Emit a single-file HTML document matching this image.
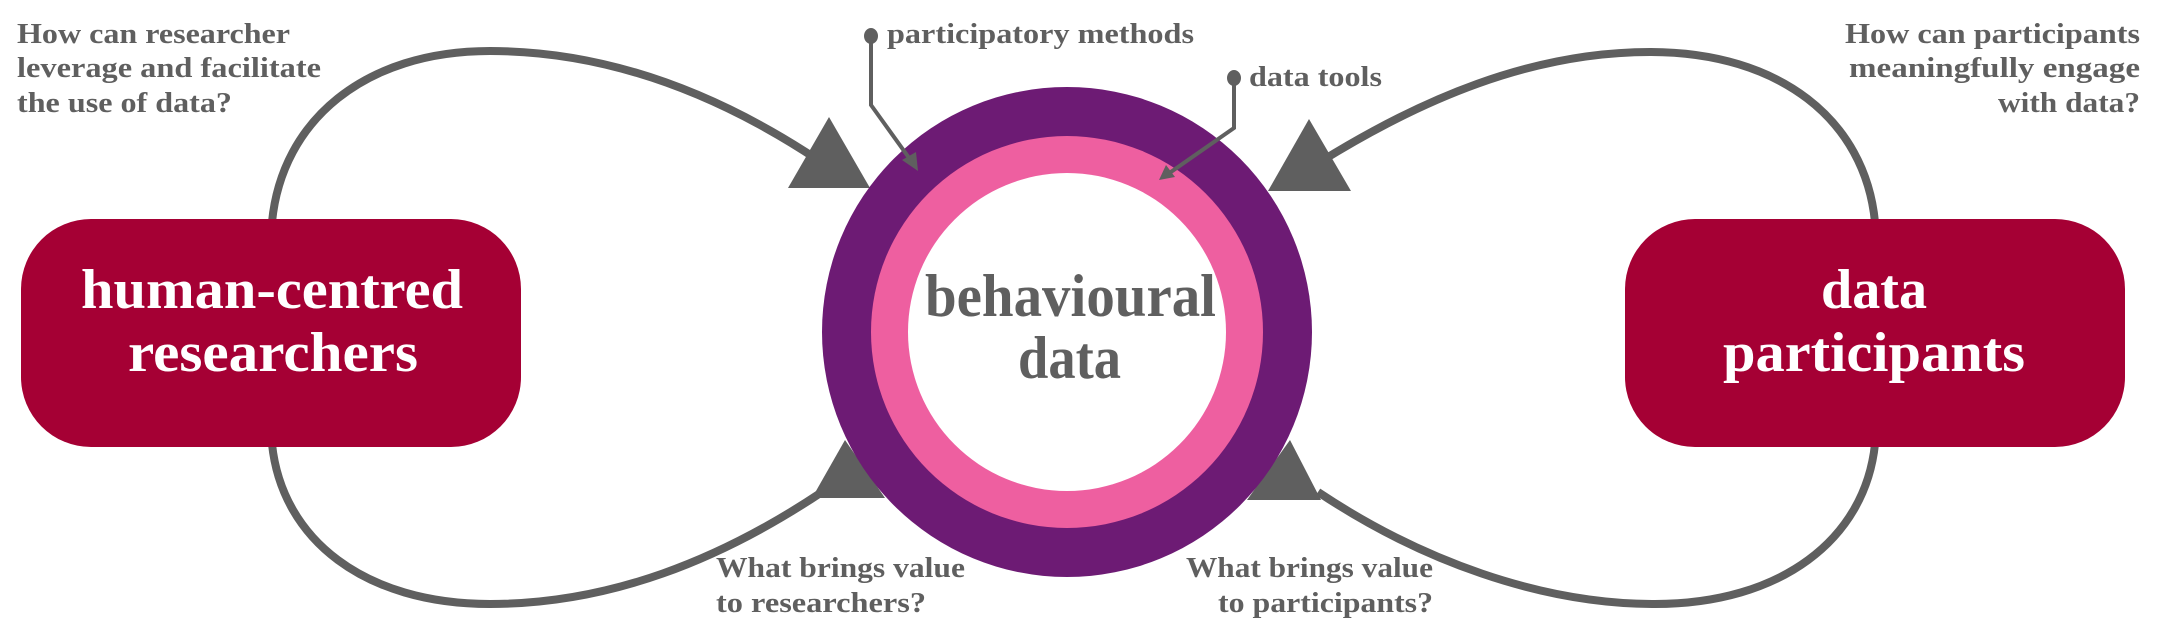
<!DOCTYPE html>
<html><head><meta charset="utf-8"><style>
html,body{margin:0;padding:0;background:#fff;}
svg{display:block}
text{font-family:"Liberation Serif","DejaVu Serif",serif;font-weight:bold;}
.q{fill:#5f5f5f;font-size:28px;}
.b{fill:#fff;font-size:56px;}
.c{fill:#5f5f5f;font-size:60px;}
</style></head><body>
<svg width="2165" height="639" viewBox="0 0 2165 639" xmlns="http://www.w3.org/2000/svg">
<g fill="none" stroke="#5f5f5f" stroke-width="8">
<path d="M272,222 C282,120 365,51 490,51 C610,51 720,95 818,160"/>
<path d="M272,444 C282,540 365,604 490,604 C610,604 720,560 822,492"/>
<path d="M1875,222 C1865,120 1780,52 1650,52 C1530,52 1420,100 1320,162"/>
<path d="M1875,444 C1865,540 1780,604 1655,604 C1540,604 1420,560 1318,492"/>
</g>
<g fill="#5f5f5f">
<polygon points="829,117 788,188 870,188"/>
<polygon points="1309,119 1268,191 1351,191"/>
<polygon points="845,440 812,498 885,498"/>
<polygon points="1290,440 1247,500 1321,500"/>
</g>
<rect x="21" y="219" width="500" height="228" rx="70" fill="#a50034"/>
<rect x="1625" y="219" width="500" height="228" rx="70" fill="#a50034"/>
<circle cx="1067" cy="332" r="245" fill="#6d1b74"/>
<circle cx="1067" cy="332" r="196" fill="#ee5fa0"/>
<circle cx="1067" cy="332" r="159" fill="#fff"/>
<g stroke="#5f5f5f" stroke-width="4" fill="none">
<polyline points="871,35 871,105 912,162"/>
<polyline points="1234,77 1234,128 1168,174"/>
</g>
<g fill="#5f5f5f">
<ellipse cx="871" cy="36" rx="7" ry="8"/>
<ellipse cx="1234" cy="78" rx="7" ry="8"/>
<polygon points="918,171 902,160 916,152"/>
<polygon points="1159,180 1166,165 1175,177"/>
</g>
<text class="q" x="887" y="43" textLength="307" lengthAdjust="spacingAndGlyphs">participatory methods</text>
<text class="q" x="1249" y="86" textLength="133" lengthAdjust="spacingAndGlyphs">data tools</text>
<text class="q" x="17" y="43" textLength="273" lengthAdjust="spacingAndGlyphs">How can researcher</text>
<text class="q" x="17" y="77" textLength="304" lengthAdjust="spacingAndGlyphs">leverage and facilitate</text>
<text class="q" x="17" y="112" textLength="215" lengthAdjust="spacingAndGlyphs">the use of data?</text>
<text class="q" x="1845" y="43" textLength="295" lengthAdjust="spacingAndGlyphs">How can participants</text>
<text class="q" x="1849" y="77" textLength="291" lengthAdjust="spacingAndGlyphs">meaningfully engage</text>
<text class="q" x="1998" y="112" textLength="142" lengthAdjust="spacingAndGlyphs">with data?</text>
<text class="q" x="716" y="577" textLength="249" lengthAdjust="spacingAndGlyphs">What brings value</text>
<text class="q" x="716" y="612" textLength="210" lengthAdjust="spacingAndGlyphs">to researchers?</text>
<text class="q" x="1186" y="577" textLength="247" lengthAdjust="spacingAndGlyphs">What brings value</text>
<text class="q" x="1218" y="612" textLength="215" lengthAdjust="spacingAndGlyphs">to participants?</text>
<text class="b" x="81" y="308" textLength="382" lengthAdjust="spacingAndGlyphs">human-centred</text>
<text class="b" x="128" y="371" textLength="290" lengthAdjust="spacingAndGlyphs">researchers</text>
<text class="b" x="1821" y="308" textLength="106" lengthAdjust="spacingAndGlyphs">data</text>
<text class="b" x="1723" y="371" textLength="302" lengthAdjust="spacingAndGlyphs">participants</text>
<text class="c" x="925" y="316" textLength="291" lengthAdjust="spacingAndGlyphs">behavioural</text>
<text class="c" x="1018" y="378" textLength="103" lengthAdjust="spacingAndGlyphs">data</text>
</svg>
</body></html>
